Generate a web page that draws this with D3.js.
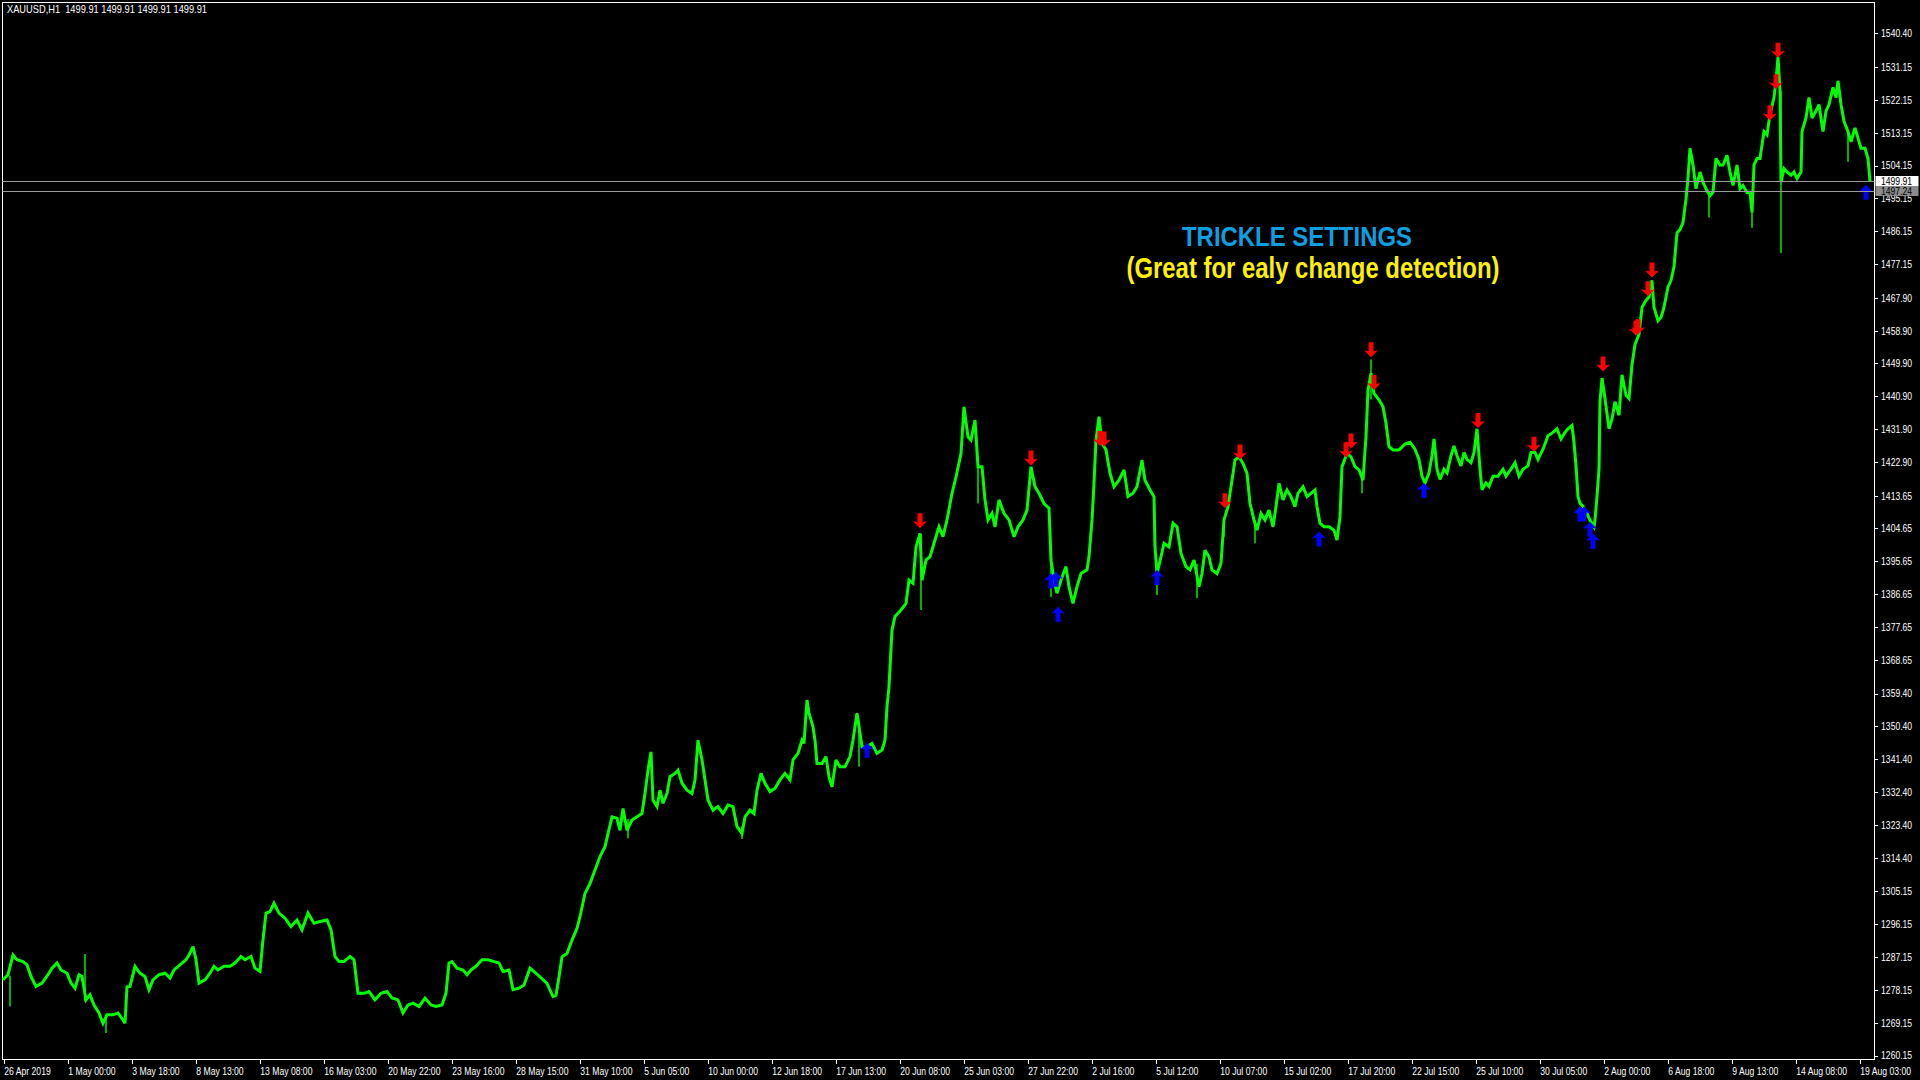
<!DOCTYPE html>
<html>
<head>
<meta charset="utf-8">
<script src="https://cdn.jsdelivr.net/npm/d3@7"></script>
<style>
	html, body { margin: 0; padding: 0; background: #000; }
	svg { display: block; }
	.axis text, .small { fill: #fff; font-family: "Liberation Sans", Arial, sans-serif; font-size: 10.5px; }
	.axis line { stroke: #fff; shape-rendering: crispEdges; }
	.axis path { display: none; }
</style>
</head>
<body>
<svg id="chart" width="1920" height="1080"></svg>
<script>
// XAUUSD H1 - [bar number, price], one reading every few bars
var mayPrices = [
	[0,1280.9],[5,1282.3],[10,1287.7],[14,1286.4],[20,1285.9],[24,1285.0],[28,1281.8],[33,1279.1],[39,1280.0],[45,1282.3],
	[49,1284.1],[54,1285.5],[58,1283.6],[64,1282.7],[68,1280.0],[72,1278.6],[76,1282.3],[79,1281.8],[83,1275.4],[87,1276.8],
	[91,1274.0],[96,1271.8],[100,1269.0],[104,1271.3],[110,1271.3],[115,1271.8],[120,1269.9],[122,1269.0],[124,1279.0],[127,1279.1],
	[132,1284.6],[137,1282.7],[142,1281.8],[146,1278.2],[150,1280.9],[156,1282.3],[162,1282.7],[167,1281.4],[171,1283.6],[177,1285.0],
	[183,1286.4],[186,1287.7],[190,1290.0],[193,1286.4],[196,1280.0],[202,1280.9],[207,1282.7],[211,1284.6],[215,1283.6],[221,1284.6],
	[227,1284.6],[232,1285.5],[238,1287.3],[242,1286.4],[248,1287.3],[252,1284.1],[257,1283.2],[260,1291.9],[263,1299.2],[267,1299.6],
	[271,1301.9],[276,1299.2],[282,1297.8],[288,1295.5],[294,1297.3],[299,1294.6],[305,1299.2],[311,1296.4],[317,1296.9],[324,1297.3],
	[328,1294.6],[332,1287.3],[336,1285.9],[341,1285.9],[347,1287.3],[351,1286.4],[355,1277.2],[361,1277.2],[366,1277.7],[372,1275.4],
	[378,1277.2],[384,1277.7],[389,1275.9],[395,1275.4],[400,1271.8],[405,1274.0],[410,1274.5],[416,1273.6],[422,1275.9],[428,1274.0],
	[433,1273.6],[439,1274.0],[443,1277.2],[446,1285.5],[449,1285.9],[454,1284.1],[460,1283.6],[464,1282.3],[468,1283.6],[473,1284.6],
	[479,1286.4],[485,1286.4],[491,1285.9],[496,1285.5],[500,1283.2],[506,1283.6],[510,1278.2],[516,1278.6],[521,1279.5],[527,1284.1],
	[533,1282.7],[537,1281.7],[544,1279.9],[550,1276.3],[553,1276.7],[556,1281.7],[559,1287.2],[564,1288.1],[569,1291.8],[574,1295.0],
	[577,1298.2],[582,1304.6],[587,1307.3],[592,1311.0],[597,1314.7]
];
var junePrices = [
	[602,1317.4],[605,1321.0],[609,1325.6],[614,1325.2],[617,1321.9],[620,1327.9],[624,1321.9],[629,1324.7],[634,1325.6],[639,1326.5],
	[642,1332.0],[645,1338.4],[648,1343.4],[650,1330.2],[654,1328.4],[657,1332.9],[660,1329.3],[664,1332.0],[667,1336.6],[672,1337.5],
	[675,1338.4],[679,1334.8],[684,1332.9],[689,1332.0],[692,1335.7],[695,1346.6],[699,1341.2],[702,1335.7],[705,1330.2],[710,1327.4],
	[715,1328.4],[720,1326.5],[725,1328.8],[730,1328.4],[734,1322.9],[739,1321.0],[742,1325.6],[747,1327.4],[751,1326.5],[754,1332.9],
	[758,1337.5],[762,1334.8],[767,1332.5],[772,1333.4],[777,1335.7],[782,1337.5],[787,1335.7],[790,1341.2],[795,1343.0],[799,1346.6],
	[801,1345.7],[804,1357.6],[806,1354.0],[810,1350.3],[812,1346.6],[814,1340.2],[819,1340.2],[823,1342.1],[826,1336.6],[829,1333.8],
	[833,1341.2],[837,1339.3],[842,1339.3],[847,1342.1],[850,1346.6],[854,1354.0],[859,1344.8],[864,1344.8],[869,1345.7],[874,1343.0],
	[879,1343.9],[882,1346.6],[884,1355.8],[886,1361.3],[889,1376.8],[892,1380.5],[898,1382.3],[903,1384.1],[906,1390.5],[910,1389.6],
	[913,1399.6],[917,1403.3],[919,1390.5],[923,1396.0],[927,1396.9],[931,1400.6],[936,1405.1],[940,1402.4],[944,1407.0],[949,1414.3],
	[953,1418.8],[958,1425.2],[961,1438.0],[965,1429.8],[968,1428.9],[972,1434.4],[975,1421.6],[979,1421.6],[982,1412.5],[985,1407.0],
	[989,1408.8]
];
var julyPrices = [
	[992,1405.1],[996,1412.5],[1001,1408.8],[1006,1407.0],[1011,1402.4],[1015,1405.1],[1020,1407.0],[1024,1409.7],[1028,1421.6],[1032,1416.1],
	[1036,1414.3],[1041,1411.5],[1046,1410.2],[1048,1396.0],[1051,1390.5],[1054,1386.9],[1058,1390.5],[1063,1394.2],[1066,1388.7],[1070,1384.1],
	[1074,1388.7],[1078,1392.3],[1084,1393.3],[1086,1396.9],[1089,1407.0],[1091,1417.0],[1093,1428.9],[1096,1435.3],[1099,1428.0],[1103,1426.2],
	[1107,1419.8],[1111,1416.1],[1116,1417.9],[1121,1420.7],[1125,1413.4],[1130,1414.3],[1134,1416.1],[1139,1423.4],[1142,1417.9],[1147,1415.2],
	[1151,1413.4],[1152,1399.6],[1154,1392.3],[1158,1396.9],[1161,1400.6],[1166,1399.6],[1170,1406.1],[1174,1405.1],[1178,1397.8],[1183,1394.2],
	[1187,1393.3],[1191,1396.0],[1196,1388.7],[1199,1392.3],[1202,1398.7],[1206,1396.9],[1209,1393.3],[1214,1392.3],[1218,1395.1],[1221,1407.0],
	[1225,1410.6],[1228,1416.1],[1232,1423.4],[1236,1424.3],[1240,1422.5],[1244,1419.8],[1247,1411.5],[1251,1407.0],[1254,1404.2],[1258,1408.8],
	[1262,1407.0],[1266,1409.7],[1270,1405.1],[1273,1410.6],[1276,1417.0],[1280,1412.5],[1284,1415.2],[1288,1413.4],[1292,1410.6],[1295,1414.3],
	[1300,1416.1],[1304,1413.4],[1308,1414.3],[1312,1415.2],[1314,1410.6],[1317,1406.1],[1321,1405.1],[1326,1405.1],[1331,1404.2],[1334,1401.5],
	[1337,1407.9],[1339,1421.6],[1344,1425.2],[1348,1424.3],[1352,1421.6],[1356,1420.7],[1360,1417.9],[1363,1429.8],[1365,1442.6],[1368,1447.2],
	[1371,1441.7],[1376,1439.9],[1380,1438.0],[1383,1433.5],[1386,1427.1],[1390,1426.2],[1395,1426.2],[1397,1426.4],[1402,1427.8],[1407,1428.3],
	[1412,1426.4],[1416,1423.6],[1419,1419.0],[1422,1417.1],[1426,1419.9],[1429,1424.6],[1431,1429.2],[1434,1420.9],[1437,1418.1],[1441,1420.9],
	[1444,1419.9],[1448,1424.6],[1451,1427.3],[1454,1424.6],[1458,1421.8],[1461,1425.5],[1464,1423.6],[1468,1422.7],[1471,1425.5],[1474,1432.0],
	[1477,1420.9],[1479,1415.3],[1483,1417.1],[1486,1416.2],[1490,1419.0],[1495,1419.0],[1500,1420.9],[1503,1419.0],[1508,1420.9],[1512,1422.7],
	[1516,1419.0],[1520,1420.9],[1525,1421.8],[1528,1425.5],[1532,1425.5],[1535,1423.6],[1540,1426.4],[1545,1430.1],[1550,1431.0],[1554,1432.0],
	[1558,1429.2],[1562,1431.0],[1565,1432.0],[1569,1432.9],[1571,1428.3],[1573,1421.8],[1575,1413.4],[1577,1411.6],[1580,1410.7],[1584,1408.8],
	[1587,1406.9],[1591,1405.1],[1592,1406.9],[1594,1413.4],[1596,1420.9],[1597,1439.4]
];
var augPrices = [
	[1599,1445.9],[1602,1440.3],[1606,1432.0],[1609,1434.7],[1612,1439.4],[1616,1435.7],[1619,1446.8],[1623,1441.2],[1626,1440.3],[1629,1449.6],
	[1632,1455.1],[1636,1457.9],[1639,1465.3],[1643,1467.2],[1646,1468.1],[1649,1472.7],[1651,1465.3],[1655,1461.6],[1658,1462.5],[1661,1465.3],
	[1665,1470.9],[1668,1472.7],[1671,1476.4],[1674,1485.7],[1677,1486.6],[1680,1488.5],[1683,1495.0],[1685,1500.6],[1687,1508.9],[1690,1504.3],
	[1693,1497.8],[1697,1502.4],[1700,1499.6],[1703,1497.8],[1707,1495.9],[1710,1496.8],[1713,1506.1],[1717,1504.3],[1720,1504.3],[1724,1507.0],
	[1727,1502.4],[1730,1498.7],[1734,1504.3],[1737,1497.8],[1740,1498.7],[1744,1496.8],[1747,1496.8],[1749,1491.3],[1751,1504.3],[1754,1506.1],
	[1757,1506.1],[1761,1513.5],[1764,1512.6],[1767,1518.2],[1771,1522.8],[1773,1527.4],[1775,1533.9],[1777,1524.6],[1778,1499.6],[1781,1503.3],
	[1784,1502.4],[1788,1501.5],[1791,1502.4],[1794,1500.6],[1798,1502.4],[1799,1513.5],[1803,1517.2],[1806,1522.8],[1809,1517.2],[1813,1519.1],
	[1816,1520.9],[1820,1513.5],[1823,1519.1],[1826,1520.9],[1830,1525.6],[1833,1522.8],[1835,1527.4],[1838,1520.9],[1841,1516.3],[1845,1513.5],
	[1848,1510.7],[1852,1514.5],[1855,1511.7],[1858,1508.9],[1862,1508.9],[1865,1506.1],[1867,1499.9]
];
// long single-bar wicks: [bar, low, high]
var wickBars = [
	[7,1273.6,1282.0],[82,1275.0,1288.0],[103,1266.3,1271.0],[625,1319.7,1325.0],[739,1319.5,1323.0],[856,1339.3,1352.0],
	[918,1382.3,1403.0],[975,1411.5,1422.0],[1048,1385.9,1396.0],[1154,1386.4,1393.0],[1194,1385.5,1395.0],[1221,1402.4,1407.0],
	[1252,1400.6,1407.0],[1359,1414.3,1420.0],[1368,1440.0,1451.0],[1706,1489.9,1497.0],[1749,1487.1,1496.0],[1778,1480.2,1524.6],
	[1845,1505.2,1513.5]
];
// trickle signals: [bar, price at arrow tip]
var sellArrows = [
	[917,1404.7],[1028,1421.9],[1097,1427.3],[1101,1427.1],[1222,1410.2],[1237,1423.6],[1343,1424.1],[1348,1426.6],[1368,1451.6],[1371,1442.6],
	[1475,1432.2],[1531,1425.7],[1600,1447.7],[1633,1457.5],[1635,1457.9],[1645,1468.3],[1649,1473.5],[1767,1516.5],[1773,1525.1],[1775,1533.7]
];
var buyArrows = [
	[864,1345.9],[1048,1392.3],[1053,1392.8],[1055,1383.2],[1154,1393.3],[1316,1403.8],[1421,1417.1],[1577,1410.7],[1581,1410.7],[1587,1406.5],
	[1590,1403.2],[1863,1498.9]
];
var priceTicks = [1540.40, 1531.15, 1522.15, 1513.15, 1504.15, 1495.15, 1486.15, 1477.15, 1467.90, 1458.90, 1449.90, 1440.90, 1431.90, 1422.90,
	1413.65, 1404.65, 1395.65, 1386.65, 1377.65, 1368.65, 1359.40, 1350.40, 1341.40, 1332.40, 1323.40, 1314.40, 1305.15, 1296.15,
	1287.15, 1278.15, 1269.15, 1260.15];
var timeLabels = ["26 Apr 2019", "1 May 00:00", "3 May 18:00", "8 May 13:00", "13 May 08:00", "16 May 03:00", "20 May 22:00",
	"23 May 16:00", "28 May 15:00", "31 May 10:00", "5 Jun 05:00", "10 Jun 00:00", "12 Jun 18:00", "17 Jun 13:00", "20 Jun 08:00",
	"25 Jun 03:00", "27 Jun 22:00", "2 Jul 16:00", "5 Jul 12:00", "10 Jul 07:00", "15 Jul 02:00", "17 Jul 20:00", "22 Jul 15:00",
	"25 Jul 10:00", "30 Jul 05:00", "2 Aug 00:00", "6 Aug 18:00", "9 Aug 13:00", "14 Aug 08:00", "19 Aug 03:00"];
var barsPerLabel = 64, lastBar = 1871;
var bidPrice = 1499.91, askPrice = 1497.24;

var svg = d3.select("#chart")
	, plotL = 2.5, plotT = 2.5, plotR = 1874.5, plotB = 1059.5
	, green = "#00ff00"
	, squeeze = "scale(0.82,1)";  // terminal font is narrower than Liberation Sans

var x = d3.scaleLinear().domain([0, lastBar]).range([3, 1874]);
var y = d3.scaleLinear().domain([1260.15, 1540.40]).range([1055.5, 33.4]);

// --- FRAME --- \\
svg.append("rect")
	.attr("x", plotL).attr("y", plotT)
	.attr("width", plotR - plotL).attr("height", plotB - plotT)
	.attr("fill", "none").attr("stroke", "#fff").attr("stroke-width", 1)
	.style("shape-rendering", "crispEdges");

// --- AXES --- \\
var yAxis = d3.axisRight(y).tickValues(priceTicks).tickSize(3).tickPadding(5)
	.tickFormat(d3.format(".2f"));
var gy = svg.append("g").attr("class", "axis").attr("transform", "translate(" + plotR + ",0)").call(yAxis);
gy.selectAll("text").attr("transform", squeeze);

var tickBars = timeLabels.map(function(d, i) { return i * barsPerLabel; });
var xAxis = d3.axisBottom(x).tickValues(tickBars).tickSize(4).tickPadding(2)
	.tickFormat(function(d, i) { return timeLabels[i]; });
var gx = svg.append("g").attr("class", "axis").attr("transform", "translate(0," + plotB + ")").call(xAxis);
gx.selectAll("text").attr("text-anchor", "start").attr("dx", "1px").attr("dy", "0.9em").attr("transform", squeeze);
gx.selectAll(".tick line").attr("transform", "translate(0.5,0)");

// --- PRICE --- \\
var allPrices = mayPrices.concat(junePrices, julyPrices, augPrices);
var line = d3.line()
	.x(function(d) { return x(d[0]); })
	.y(function(d) { return y(d[1]); });

var plot = svg.append("g");

plot.selectAll(".wick").data(wickBars).enter().append("line")
	.attr("class", "wick")
	.attr("x1", function(d) { return x(d[0]); }).attr("x2", function(d) { return x(d[0]); })
	.attr("y1", function(d) { return y(d[1]); }).attr("y2", function(d) { return y(d[2]); })
	.attr("stroke", green).attr("stroke-width", 1.4);

plot.append("path")
	.datum(allPrices)
	.attr("d", line)
	.attr("fill", "none")
	.attr("stroke", green)
	.attr("stroke-width", 3)
	.attr("stroke-linejoin", "miter")
	.attr("stroke-miterlimit", 3);

// --- BID / ASK --- \\
[askPrice, bidPrice].forEach(function(p) {
	svg.append("line")
		.attr("x1", plotL).attr("x2", plotR)
		.attr("y1", Math.round(y(p)) + 0.5).attr("y2", Math.round(y(p)) + 0.5)
		.attr("stroke", "#9a9a9a").attr("stroke-width", 1);
});

// --- SIGNALS --- \\
var downShape = "M0,0 L-7,-7 L-2.5,-6 L-2.5,-15 L2.5,-15 L2.5,-6 L7,-7 Z"
	, upShape = "M0,0 L-7,7 L-2.5,6 L-2.5,15 L2.5,15 L2.5,6 L7,7 Z";

plot.selectAll(".sell").data(sellArrows).enter().append("path")
	.attr("class", "sell")
	.attr("d", downShape)
	.attr("transform", function(d) { return "translate(" + x(d[0]) + "," + y(d[1]) + ")"; })
	.attr("fill", "#ff0000");

plot.selectAll(".buy").data(buyArrows).enter().append("path")
	.attr("class", "buy")
	.attr("d", upShape)
	.attr("transform", function(d) { return "translate(" + x(d[0]) + "," + y(d[1]) + ")"; })
	.attr("fill", "#0000ff");

// price boxes on the scale
var boxes = [[bidPrice, "#ffffff"], [askPrice, "#8c8c8c"]];
boxes.forEach(function(b) {
	var yy = Math.round(y(b[0]));
	svg.append("rect")
		.attr("x", plotR + 1).attr("y", yy - 5)
		.attr("width", 43).attr("height", 10)
		.attr("fill", b[1]);
	svg.append("text")
		.attr("class", "small")
		.attr("transform", "translate(" + (plotR + 6.5) + "," + (yy + 4) + ") " + squeeze)
		.style("fill", "#000")
		.text(d3.format(".2f")(b[0]));
});

// --- LABELS --- \\
svg.append("text")
	.attr("class", "small")
	.attr("x", 7).attr("y", 13)
	.attr("textLength", 200).attr("lengthAdjust", "spacingAndGlyphs")
	.style("white-space", "pre")
	.text("XAUUSD,H1  " + [bidPrice, bidPrice, bidPrice, bidPrice].map(d3.format(".2f")).join(" "));

svg.append("text")
	.attr("x", 1297).attr("y", 246)
	.attr("text-anchor", "middle")
	.attr("textLength", 230).attr("lengthAdjust", "spacingAndGlyphs")
	.attr("fill", "#0d9fe0")
	.style("font-family", "\"Liberation Sans Narrow\", \"Liberation Sans\", Arial, sans-serif")
	.style("font-weight", "bold")
	.style("font-size", "28px")
	.text("TRICKLE SETTINGS");

svg.append("text")
	.attr("x", 1313).attr("y", 278)
	.attr("text-anchor", "middle")
	.attr("textLength", 373).attr("lengthAdjust", "spacingAndGlyphs")
	.attr("fill", "#fff200")
	.style("font-family", "\"Liberation Sans Narrow\", \"Liberation Sans\", Arial, sans-serif")
	.style("font-weight", "bold")
	.style("font-size", "30px")
	.text("(Great for ealy change detection)");
</script>
</body>
</html>
